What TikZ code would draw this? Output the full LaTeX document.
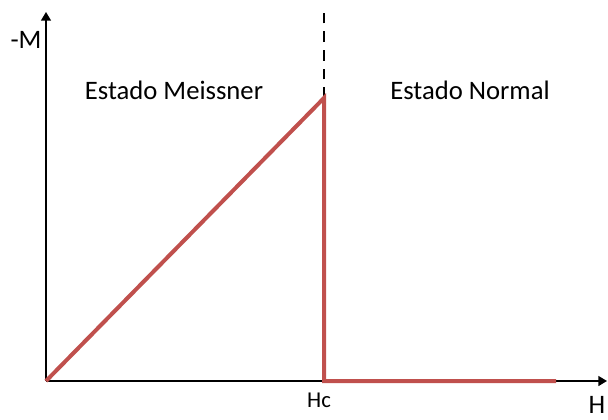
\documentclass[tikz,border=0pt]{standalone}
\usepackage{fontspec}
\setmainfont{Carlito}
\usetikzlibrary{arrows.meta}
\usetikzlibrary{positioning}
\definecolor{curvered}{RGB}{192,80,77}
\tikzset{>=latex}
\tikzstyle{axis} = [-{Triangle[width=7.5pt,length=6.5pt]}, line width=1.1pt]
\tikzstyle{curve} = [draw=curvered, line width=3pt, line join=miter]
\tikzstyle{lbl} = [draw=none, inner sep=0pt, font=\fontsize{20}{22}\selectfont]
\begin{document}
\begin{tikzpicture}[x=0.75pt, y=-0.75pt]
\useasboundingbox (0,0) rectangle (608,419);
\coordinate (O) at (46,381);
\coordinate (Mtop) at (46,12);
\coordinate (Hend) at (607,381);
\coordinate (P) at (324,98);
\coordinate (T) at (324,12);
\coordinate (Hc) at (324,381);
\coordinate (E) at (556,381);
\draw [axis] (O) to (Mtop);
\draw [axis] (O) to (Hend);
\draw [dashed, dash pattern=on 8pt off 6pt, line width=1.1pt] (P) to (T);
\draw [curve] (O) -- (P) -- (Hc) -- (E);
\node [lbl] (M) at (26,40) {-M};
\node [lbl] (H) at (597,405) {H};
\node [lbl, font=\fontsize{17}{19}\selectfont] (HcL) at (319,400) {Hc};
\node [lbl] (meissner) at (174,90) {Estado Meissner};
\node [lbl] (normal) at (470,90) {Estado Normal};
\end{tikzpicture}
\end{document}
